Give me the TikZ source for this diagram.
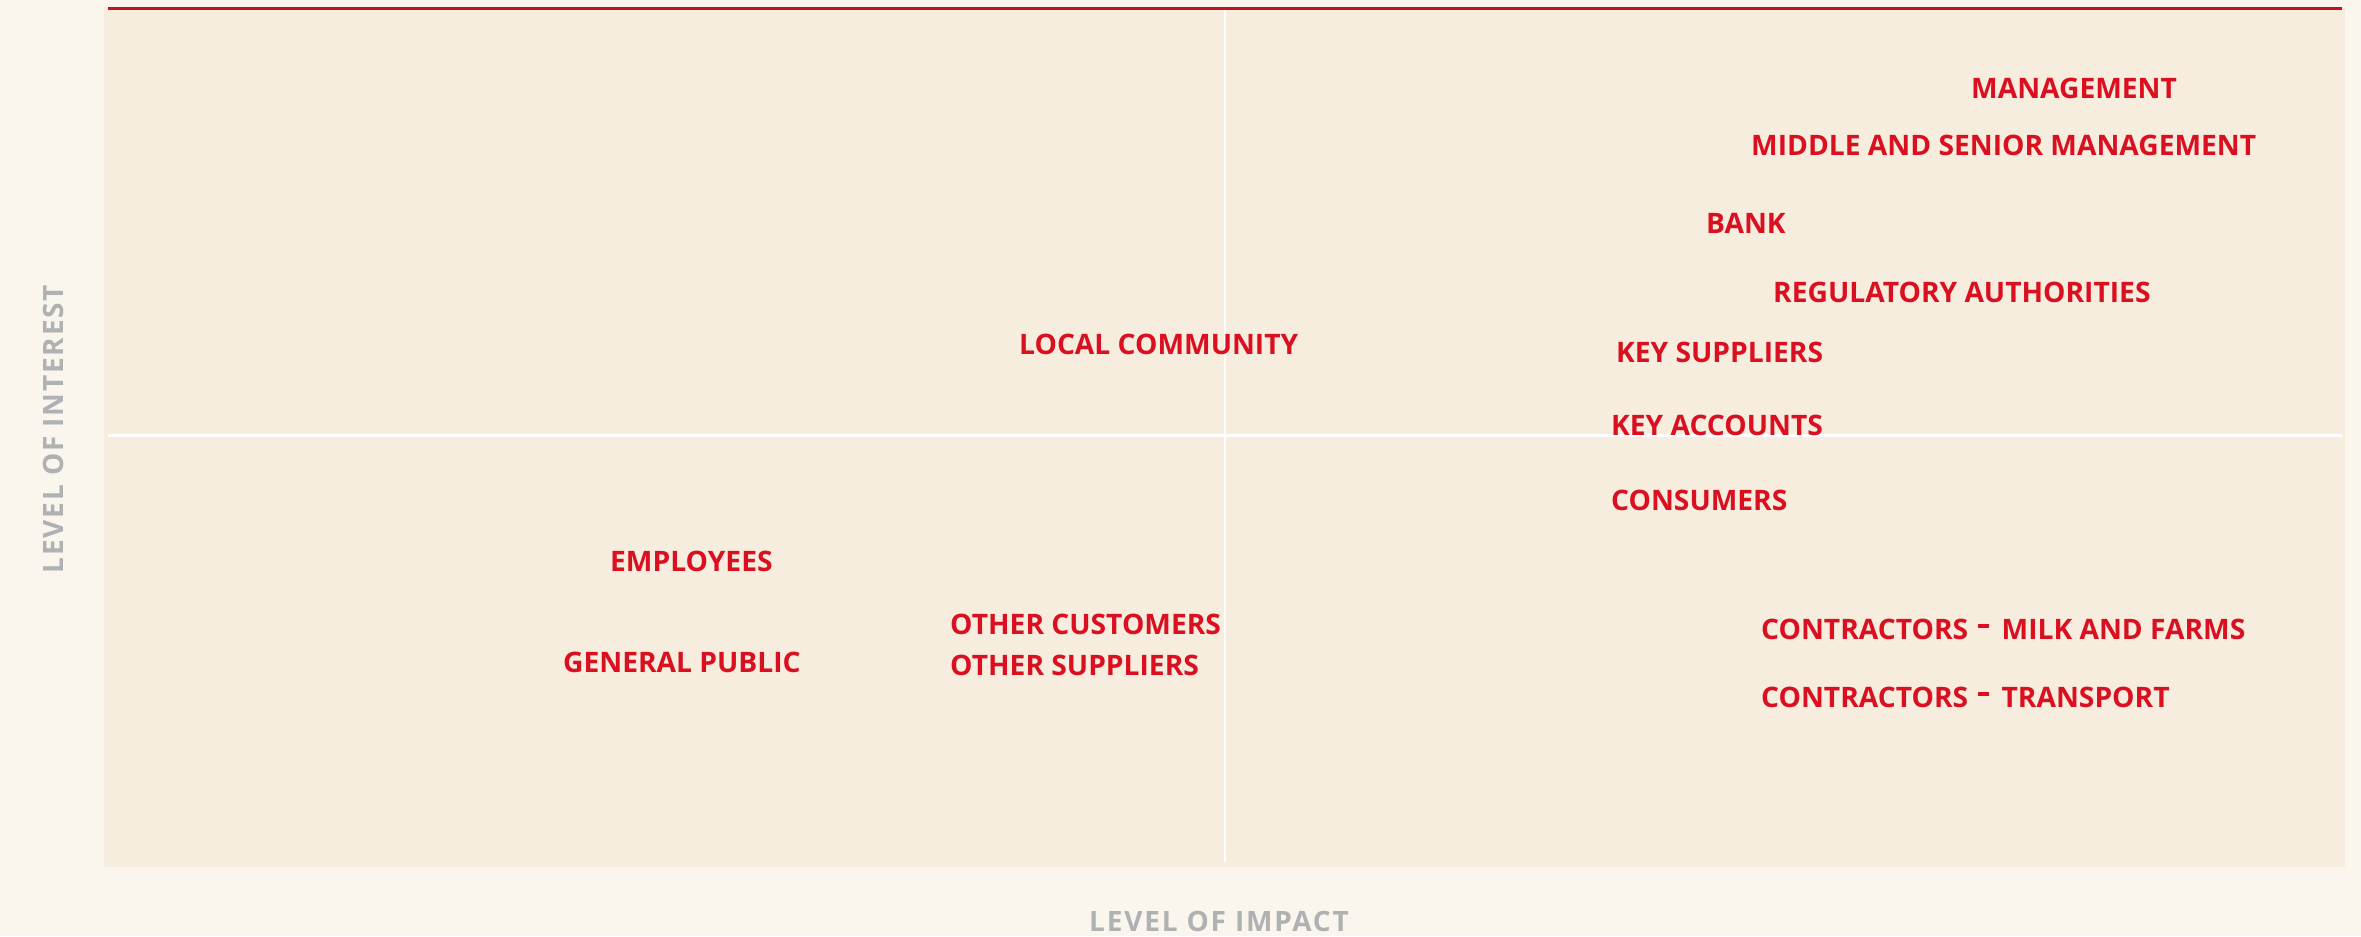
\documentclass[tikz,border=0pt]{standalone}
\usepackage{fontspec}
\setmainfont{Open Sans}
\newfontfamily\axisfont[LetterSpace=6.4]{Open Sans}
\definecolor{outerbg}{RGB}{250,246,238}
\definecolor{panelbg}{RGB}{246,237,223}
\definecolor{lblred}{RGB}{218,16,32}
\definecolor{toprule}{RGB}{192,20,30}
\definecolor{axisgray}{RGB}{176,177,179}
\newcommand{\rdash}{\hspace{10bp}\rule[11bp]{10.5bp}{4.5bp}\hspace{13bp}}
\tikzset{
  stake/.style={anchor=base west, inner sep=0pt, text=lblred, font=\fontsize{28.2bp}{30bp}\selectfont\bfseries},
  axislbl/.style={inner sep=0pt, text=axisgray, font=\fontsize{28bp}{30bp}\axisfont\bfseries},
  divider/.style={draw=white, line width=2.4bp}
}
\begin{document}
\begin{tikzpicture}[x=1bp,y=-1bp]
\fill[outerbg] (0,0) rectangle (2361,936);
\useasboundingbox (0,0) rectangle (2361,936);
\fill[panelbg] (104,7) coordinate (pnw) rectangle (2345,867) coordinate (pse);
\coordinate (vt) at (1225,10);
\coordinate (vb) at (1225,862);
\coordinate (hl) at (108,435.3);
\coordinate (hr) at (2342,435.3);
\coordinate (rl) at (108,8.5);
\coordinate (rr) at (2342,8.5);
\draw[divider] (vt) -- (vb);
\draw[divider] (hl) -- (hr);
\draw[toprule, line width=3bp] (rl) -- (rr);

\node[stake] (mgmt) at (1971,98) {MANAGEMENT};
\node[stake] (msm) at (1751,155) {MIDDLE AND SENIOR MANAGEMENT};
\node[stake] (bank) at (1706,233) {BANK};
\node[stake] (reg) at (1773,302) {REGULATORY AUTHORITIES};
\node[stake] (local) at (1019,354) {LOCAL COMMUNITY};
\node[stake] (keysup) at (1616,362) {KEY SUPPLIERS};
\node[stake] (keyacc) at (1611,435) {KEY ACCOUNTS};
\node[stake] (cons) at (1611,510) {CONSUMERS};
\node[stake] (emp) at (610,571) {EMPLOYEES};
\node[stake] (othcust) at (950,634) {OTHER CUSTOMERS};
\node[stake] (genpub) at (563,672) {GENERAL PUBLIC};
\node[stake] (othsup) at (950,675) {OTHER SUPPLIERS};
\node[stake] (milk) at (1761,639) {CONTRACTORS\rdash{}MILK AND FARMS};
\node[stake] (trans) at (1761,707) {CONTRACTORS\rdash{}TRANSPORT};

\node[axislbl, rotate=90] (yaxis) at (53,429) {LEVEL OF INTEREST};
\node[axislbl] (xaxis) at (1219,921) {LEVEL OF IMPACT};
\end{tikzpicture}
\end{document}
